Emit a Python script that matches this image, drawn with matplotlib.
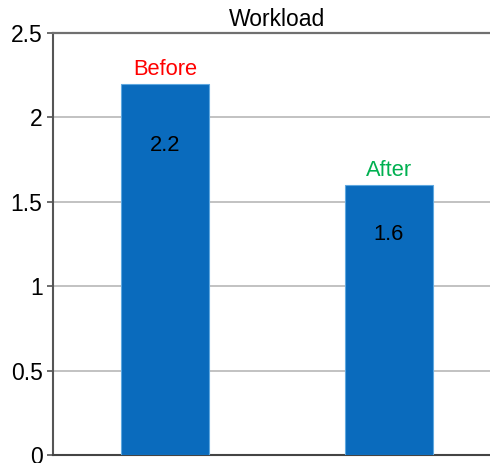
import matplotlib
matplotlib.use("Agg")
import matplotlib.pyplot as plt

# Data
categories = ["Before", "After"]
values = [2.2, 1.6]
label_colors = ["#FF0000", "#00B050"]
title = "Workload"
yticks = [0, 0.5, 1, 1.5, 2, 2.5]
ytick_labels = ["0", "0.5", "1", "1.5", "2", "2.5"]

plt.rcParams["font.family"] = ["Liberation Sans", "DejaVu Sans"]

fig = plt.figure(figsize=(4.9, 4.63), dpi=100)
ax = fig.add_axes([0.1082, 0.0173, 0.9143, 0.9114])

x = list(range(len(categories)))
bars = ax.bar(x, values, width=0.395, color="#0A6BBD",
              edgecolor="#5FA8E0", linewidth=0.8, zorder=3)

ax.set_xlim(-0.5, 1.5)
ax.set_ylim(0, 2.5)
ax.set_yticks(yticks)
ax.set_yticklabels(ytick_labels, fontsize=16.5)
ax.set_xticks([])

ax.grid(axis="y", color="#B8B8B8", linewidth=1.2, zorder=0)
ax.spines["right"].set_visible(False)
ax.spines["top"].set_color("#707070")
ax.spines["top"].set_linewidth(1.6)
ax.spines["left"].set_color("#555555")
ax.spines["left"].set_linewidth(1.5)
ax.spines["bottom"].set_color("#444444")
ax.spines["bottom"].set_linewidth(1.5)
ax.tick_params(axis="y", length=4.5, width=1.2, color="#555555", pad=3)

# category names above bars, values inside bars
inner_offsets = [62, 50]
for xi, v, name, c, off in zip(x, values, categories, label_colors, inner_offsets):
    ax.annotate(name, (xi, v), xytext=(0, 4), textcoords="offset pixels",
                ha="center", va="bottom", color=c, fontsize=15.75)
    ax.annotate(f"{v:g}", (xi, v), xytext=(0, -off), textcoords="offset pixels",
                ha="center", va="center", color="black", fontsize=15.75)

ax.set_title(title, fontsize=16.5, pad=5)

fig.savefig("out.png", dpi=100)
